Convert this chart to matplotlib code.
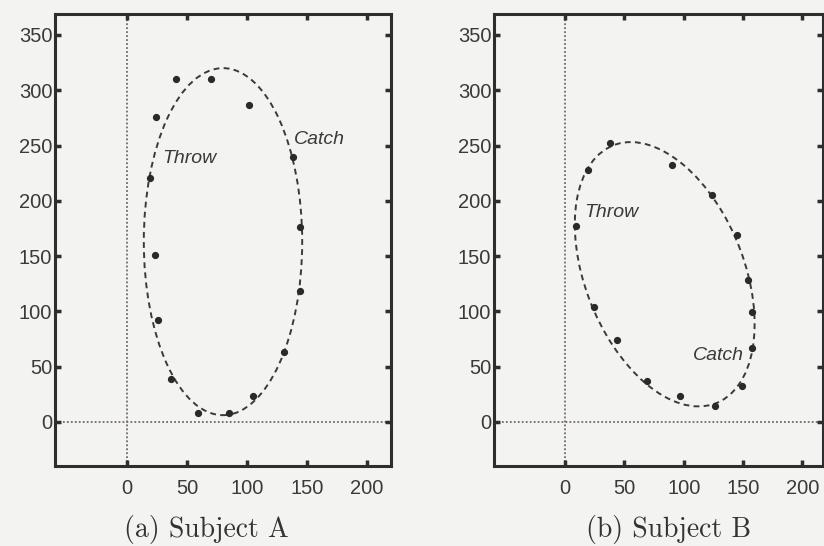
import matplotlib
matplotlib.use("Agg")
import matplotlib.pyplot as plt
import numpy as np
from matplotlib.patches import Ellipse

# measured points, subject A
a_x = [41, 70, 24, 102, 19, 138, 144, 23, 144, 26, 131, 37, 105, 59, 85]
a_y = [310, 310, 276, 287, 221, 240, 176, 151, 118, 92, 63, 39, 23, 8, 8]
# fitted ellipse A: center, full width, full height, angle (deg)
a_ell = (80, 163, 132, 314, 0)

# measured points, subject B
b_x = [38, 19, 90, 124, 145, 9, 154, 158, 158, 149, 126, 97, 69, 44, 24]
b_y = [252, 228, 232, 205, 169, 177, 128, 99, 67, 32, 14, 23, 37, 74, 104]
b_ell = (84, 133.5, 249, 135, 109.3)

xticks = [0, 50, 100, 150, 200]
yticks = [0, 50, 100, 150, 200, 250, 300, 350]

bg = '#f3f3f1'
ink = '#2e2e2e'
dotc = '#75676c'

fig = plt.figure(figsize=(8.24, 5.46), dpi=100, facecolor=bg)

panels = [
    dict(rect=[55/824, 80/546, 336/824, 452/546], xlim=(-60, 220),
         x=a_x, y=a_y, ell=a_ell,
         labels=[('Throw', 29, 238), ('Catch', 139, 255)],
         cap='(a) Subject A', capx=206/824),
    dict(rect=[494/824, 80/546, 329/824, 452/546], xlim=(-60, 217.5),
         x=b_x, y=b_y, ell=b_ell,
         labels=[('Throw', 16, 189), ('Catch', 108, 60)],
         cap='(b) Subject B', capx=669/824),
]

for p in panels:
    ax = fig.add_axes(p['rect'])
    ax.set_facecolor(bg)
    ax.set_xlim(*p['xlim'])
    ax.set_ylim(-40, 369)
    ax.set_xticks(xticks)
    ax.set_yticks(yticks)
    for s in ax.spines.values():
        s.set_linewidth(2.2)
        s.set_color(ink)
    ax.tick_params(direction='in', length=4, width=2.5, color=ink,
                   top=True, right=True, labelsize=14.5, labelcolor='#3a3a3a')
    ax.tick_params(axis='x', pad=9)
    ax.tick_params(axis='y', pad=2)
    for lab in ax.get_xticklabels() + ax.get_yticklabels():
        lab.set_fontfamily('Liberation Sans')

    ax.axhline(0, color=dotc, lw=1.3, ls=(0, (1, 1.2)), zorder=1)
    ax.axvline(0, color=dotc, lw=1.3, ls=(0, (1, 1.2)), zorder=1)

    cx, cy, w, h, ang = p['ell']
    e = Ellipse((cx, cy), w, h, angle=ang, fill=False, ec='#3a3a3a',
                lw=1.4, ls=(0, (3, 2.2)), zorder=2)
    ax.add_patch(e)
    ax.plot(p['x'], p['y'], 'o', ms=4.2, color='#2a2a2a', zorder=3)

    for txt, tx, ty in p['labels']:
        ax.text(tx, ty, txt, fontsize=14, style='italic', color='#3a3a3a',
                family='Liberation Sans', va='center', ha='left')

    fig.text(p['capx'], 16/546, p['cap'], fontsize=20, family='cmr10',
             color='#333333', ha='center', va='center')

fig.savefig('out.png', dpi=100, facecolor=bg)
